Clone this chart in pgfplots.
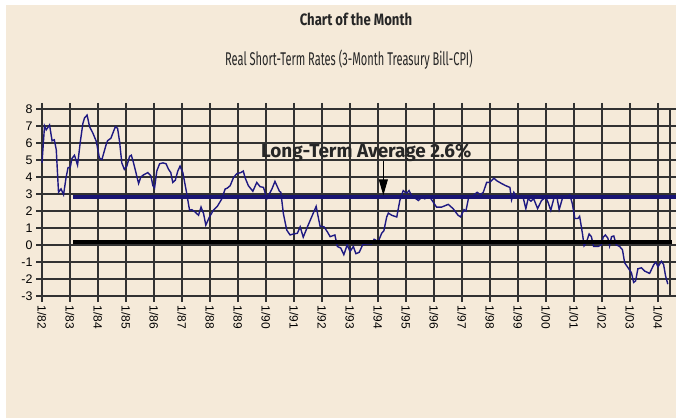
\documentclass[border=0pt]{standalone}
\usepackage{fontspec}
\setmainfont{Liberation Sans}
\newfontfamily\dintitle[FakeStretch=0.8]{Fira Sans}
\newfontfamily\dinsub[FakeStretch=0.6]{Fira Sans}
\newfontfamily\dinwide{Fira Sans}
\usepackage{pgfplots}
\pgfplotsset{compat=1.18}
\usetikzlibrary{arrows.meta}
\definecolor{bg}{RGB}{245,234,217}
\definecolor{navy}{RGB}{30,25,130}
\definecolor{avg}{RGB}{25,20,115}
\definecolor{gridc}{RGB}{50,50,50}
\begin{document}
\begin{tikzpicture}[x=1bp,y=1bp]
\fill[white] (-42,-122) rectangle (634,296);
\fill[bg] (-36,-122) rectangle (634,291);
\node[font=\dintitle\bfseries\fontsize{16.5}{18}\selectfont, text=black!85] at (314,277) {Chart of the Month};
\node[font=\dinsub\fontsize{18.5}{20}\selectfont, text=black!85] at (307,236) {Real Short-Term Rates (3-Month Treasury Bill-CPI)};
\begin{axis}[
  at={(0,0)}, anchor=south west,
  x=28bp, y=17bp,
  xmin=1982, xmax=2004.43, ymin=-3, ymax=8,
  xtick={1982,...,2004},
  xticklabels={1/82,1/83,1/84,1/85,1/86,1/87,1/88,1/89,1/90,1/91,1/92,1/93,1/94,1/95,1/96,1/97,1/98,1/99,1/00,1/01,1/02,1/03,1/04},
  ytick={-3,...,8},
  /pgf/number format/assume math mode=true,
  grid=major,
  major grid style={draw=gridc, line width=2bp},
  axis line style={draw=gridc, line width=2bp},
  tick style={draw=gridc, line width=2bp},
  tick align=outside,
  major tick length=6bp,
  xticklabel style={rotate=-90, anchor=west, font=\fontsize{12}{12}\selectfont},
  yticklabel style={font=\fontsize{12.5}{12}\selectfont},
  clip=false,
]
\addplot[navy, line width=1.4bp] coordinates {
(1982.00,4.83)(1982.09,7.0)(1982.15,6.77)(1982.27,7.06)(1982.36,6.13)(1982.44,6.19)(1982.51,5.6)(1982.59,3.1)(1982.68,3.3)(1982.77,2.96)(1982.86,3.97)(1982.93,4.55)(1983.01,4.58)(1983.07,5.09)(1983.16,5.28)(1983.27,4.7)(1983.37,6.09)(1983.46,7.15)(1983.52,7.48)(1983.61,7.64)(1983.70,6.96)(1983.82,6.57)(1983.94,6.09)(1984.05,5.12)(1984.14,5.03)(1984.29,5.9)(1984.34,6.13)(1984.46,6.28)(1984.62,6.96)(1984.70,6.86)(1984.77,6.09)(1984.85,4.83)(1984.94,4.45)(1985.03,4.64)(1985.13,5.22)(1985.19,5.28)(1985.27,4.83)(1985.45,3.62)(1985.53,4.0)(1985.62,4.12)(1985.78,4.26)(1985.89,4.06)(1985.96,3.49)(1986.02,3.35)(1986.10,4.35)(1986.20,4.78)(1986.32,4.83)(1986.43,4.78)(1986.52,4.45)(1986.60,4.26)(1986.67,3.68)(1986.76,3.81)(1986.85,4.35)(1986.93,4.64)(1987.03,4.26)(1987.15,3.2)(1987.27,2.04)(1987.35,2.08)(1987.47,1.94)(1987.59,1.75)(1987.68,2.23)(1987.77,1.85)(1987.85,1.17)(1987.98,1.65)(1988.12,2.04)(1988.26,2.27)(1988.42,2.71)(1988.54,3.29)(1988.62,3.35)(1988.72,3.49)(1988.84,3.97)(1988.96,4.2)(1989.10,4.26)(1989.19,4.35)(1989.25,3.97)(1989.37,3.49)(1989.53,3.16)(1989.67,3.68)(1989.79,3.43)(1989.91,3.39)(1990.03,2.72)(1990.21,3.29)(1990.32,3.74)(1990.48,3.16)(1990.53,3.1)(1990.62,1.85)(1990.74,0.88)(1990.86,0.59)(1990.98,0.65)(1991.12,0.69)(1991.22,1.07)(1991.33,0.46)(1991.48,1.07)(1991.63,1.65)(1991.79,2.27)(1991.93,1.11)(1992.07,1.07)(1992.19,0.78)(1992.29,0.49)(1992.46,0.59)(1992.55,-0.09)(1992.67,-0.18)(1992.78,-0.57)(1992.90,0.01)(1993.00,-0.38)(1993.12,-0.09)(1993.21,-0.51)(1993.33,-0.43)(1993.45,0.01)(1993.59,0.07)(1993.77,0.07)(1993.86,0.34)(1994.01,0.2)(1994.13,0.69)(1994.21,0.84)(1994.31,1.65)(1994.37,1.88)(1994.49,1.75)(1994.67,1.65)(1994.78,2.62)(1994.90,3.2)(1995.02,3.04)(1995.11,3.2)(1995.20,2.91)(1995.44,2.62)(1995.56,2.81)(1995.67,2.72)(1995.79,2.91)(1995.89,2.72)(1996.09,2.23)(1996.27,2.23)(1996.51,2.39)(1996.68,2.14)(1996.86,1.75)(1996.95,1.65)(1997.07,2.08)(1997.14,2.0)(1997.25,2.91)(1997.40,2.91)(1997.54,3.1)(1997.66,2.96)(1997.76,3.1)(1997.88,3.68)(1997.99,3.68)(1998.14,3.93)(1998.25,3.77)(1998.41,3.62)(1998.56,3.49)(1998.71,3.39)(1998.77,2.66)(1998.85,3.1)(1998.95,2.81)(1999.12,2.91)(1999.18,2.81)(1999.28,2.14)(1999.36,2.72)(1999.46,2.58)(1999.56,2.72)(1999.70,2.14)(1999.84,2.62)(1999.99,2.81)(2000.07,2.52)(2000.17,2.04)(2000.29,2.81)(2000.39,2.81)(2000.47,2.08)(2000.59,2.77)(2000.70,2.81)(2000.85,2.95)(2000.94,2.43)(2001.03,1.56)(2001.14,1.56)(2001.20,1.69)(2001.30,0.69)(2001.36,-0.05)(2001.44,0.14)(2001.54,0.65)(2001.62,0.49)(2001.70,-0.09)(2001.86,-0.09)(2001.98,0.01)(2002.04,0.46)(2002.12,0.59)(2002.21,0.4)(2002.27,-0.05)(2002.34,0.49)(2002.42,0.53)(2002.51,0.01)(2002.63,-0.09)(2002.73,-0.28)(2002.81,-1.05)(2002.93,-1.34)(2003.05,-1.63)(2003.13,-2.2)(2003.20,-2.11)(2003.28,-1.4)(2003.41,-1.34)(2003.52,-1.53)(2003.70,-1.67)(2003.85,-1.15)(2003.92,-1.01)(2004.00,-1.28)(2004.12,-0.96)(2004.20,-1.15)(2004.27,-1.82)(2004.35,-2.3)
};
\addplot[avg, line width=4bp] coordinates {(1983.1,2.8)(2004.64,2.8)};
\addplot[black, line width=4bp] coordinates {(1983.1,0.17)(2004.5,0.17)};
\node[font=\dinwide\bfseries\fontsize{19}{21}\selectfont, text=black!85] at (axis cs:1993.58,5.4) {Long-Term Average 2.6\%};
\draw[black, line width=0.9bp, -{Triangle[length=16bp,width=9bp]}] (axis cs:1994.19,4.93) -- (axis cs:1994.19,2.92);
\end{axis}
\pgfresetboundingbox
\useasboundingbox (-42,-122) rectangle (634,296);
\end{tikzpicture}
\end{document}
